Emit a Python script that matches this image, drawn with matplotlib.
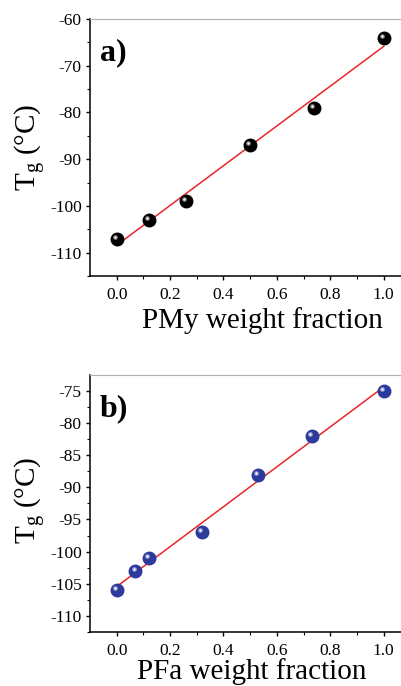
import numpy as np
import matplotlib
matplotlib.use("Agg")
import matplotlib.pyplot as plt
import matplotlib.transforms as mtransforms

plt.rcParams['font.family'] = ['Liberation Serif', 'DejaVu Serif']
plt.rcParams['mathtext.fontset'] = 'custom'
plt.rcParams['mathtext.rm'] = 'Liberation Serif'
plt.rcParams['mathtext.it'] = 'Liberation Serif:italic'

# Panel a) PMy blend data
pmy_frac = [0.0, 0.12, 0.26, 0.50, 0.74, 1.0]
pmy_tg = [-107, -103, -99, -87, -79, -64]

# Panel b) PFa blend data
pfa_frac = [0.0, 0.07, 0.12, 0.32, 0.53, 0.73, 1.0]
pfa_tg = [-106, -103, -101, -97, -88, -82, -75]


def draw_panel(ax, x, y, color, xlabel, tag, ylim, yticks):
    x = np.array(x)
    y = np.array(y)
    # linear fit
    k, b = np.polyfit(x, y, 1)
    xf = np.array([x.min(), x.max()])
    ax.plot(xf, k * xf + b, color="#e8262a", lw=1.1, zorder=2)

    # shaded balls
    ax.plot(x, y, "o", ms=9, color=color, mec=color, zorder=3)
    shift = mtransforms.offset_copy(ax.transData, fig=ax.figure, x=-1.3, y=1.3, units="points")
    ax.plot(x, y, "o", ms=3.5, color="white", mec="none", alpha=0.45,
            transform=shift, zorder=4)
    ax.plot(x, y, "o", ms=1.8, color="white", mec="none", alpha=0.9,
            transform=shift, zorder=5)

    ax.set_xlim(-0.1, 1.1)
    ax.set_ylim(*ylim)
    ax.set_xticks([0.0, 0.2, 0.4, 0.6, 0.8, 1.0])
    ax.set_xticks([0.1, 0.3, 0.5, 0.7, 0.9], minor=True)
    ax.set_yticks(yticks)
    step = yticks[1] - yticks[0]
    ax.set_yticks(np.arange(yticks[0] - step / 2, ylim[1], step), minor=True)
    ax.set_yticklabels([str(int(t)) for t in yticks])
    ax.set_xticklabels(["0.0", "0.2", "0.4", "0.6", "0.8", "1.0"])

    ax.tick_params(which="major", direction="out", length=3, width=1,
                   labelsize=12.5, top=False, right=False)
    ax.tick_params(axis="x", which="major", pad=5)
    ax.tick_params(axis="y", which="major", pad=3)
    ax.tick_params(which="minor", direction="out", length=2, width=0.8,
                   top=False, right=False)
    ax.spines["top"].set_color("#b0b0b0")
    ax.spines["right"].set_visible(False)
    for s in ["left", "bottom"]:
        ax.spines[s].set_linewidth(1.1)

    ax.set_xlabel(xlabel, fontsize=21)
    ax.set_ylabel(r"T$_{\mathrm{g}}$ (°C)", fontsize=21)
    ax.text(0.03, 0.87, tag, transform=ax.transAxes, fontsize=23,
            fontweight="bold", va="center", ha="left")


fig = plt.figure(figsize=(4.01, 6.86), dpi=100)
ax1 = fig.add_axes([0.2244, 0.5977, 0.799, 0.3746])
ax2 = fig.add_axes([0.2244, 0.0792, 0.799, 0.3738])

draw_panel(ax1, pmy_frac, pmy_tg, "black", "PMy weight fraction", "a)",
           (-115, -60), [-110, -100, -90, -80, -70, -60])
draw_panel(ax2, pfa_frac, pfa_tg, "#2c3a9c", "PFa weight fraction", "b)",
           (-110, -72.5), [-110, -105, -100, -95, -90, -85, -80, -75])

ax1.xaxis.set_label_coords(0.537, -0.12)
ax1.yaxis.set_label_coords(-0.131, 0.50)
ax2.xaxis.set_label_coords(0.506, -0.103)
ax2.yaxis.set_label_coords(-0.131, 0.514)

plt.savefig("out.png", dpi=100)
